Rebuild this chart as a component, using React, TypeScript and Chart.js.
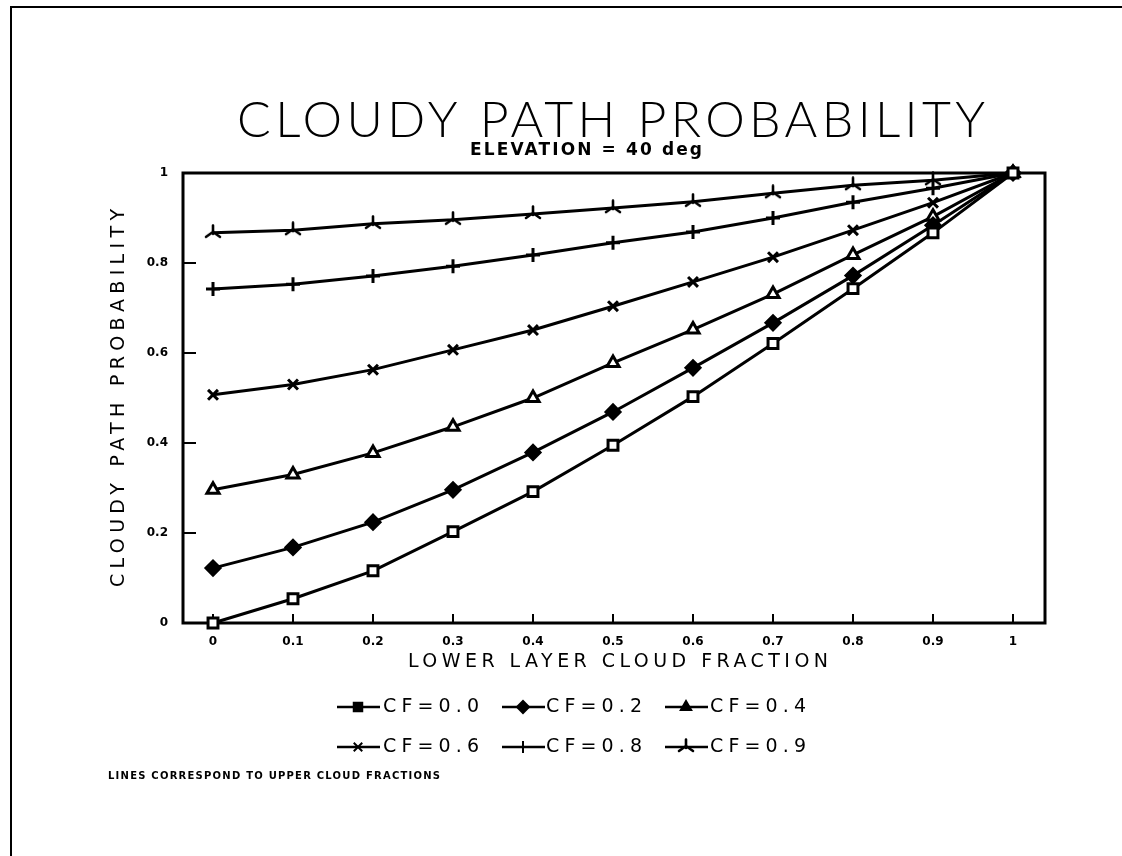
import React, { useEffect, useRef } from "react";
import { Chart, registerables } from "chart.js";
import { drawPoint } from "chart.js/helpers";

Chart.register(...registerables);

// ---------------- data ----------------
const xValues = [0, 0.1, 0.2, 0.3, 0.4, 0.5, 0.6, 0.7, 0.8, 0.9, 1.0];
const cf00 = [0.0, 0.054, 0.116, 0.203, 0.292, 0.395, 0.503, 0.621, 0.743, 0.867, 1.0];
const cf02 = [0.122, 0.168, 0.224, 0.296, 0.379, 0.469, 0.567, 0.667, 0.772, 0.884, 1.0];
const cf04 = [0.296, 0.33, 0.378, 0.436, 0.5, 0.578, 0.652, 0.731, 0.818, 0.903, 1.0];
const cf06 = [0.507, 0.53, 0.563, 0.607, 0.651, 0.704, 0.758, 0.813, 0.873, 0.934, 1.0];
const cf08 = [0.742, 0.753, 0.771, 0.793, 0.818, 0.845, 0.869, 0.9, 0.935, 0.966, 1.0];
const cf09 = [0.867, 0.873, 0.887, 0.896, 0.909, 0.922, 0.936, 0.955, 0.973, 0.984, 1.0];
const seriesLabels = ["CF=0.0", "CF=0.2", "CF=0.4", "CF=0.6", "CF=0.8", "CF=0.9"];
const xTickValues = [0, 0.1, 0.2, 0.3, 0.4, 0.5, 0.6, 0.7, 0.8, 0.9, 1];
const yTickValues = [0, 0.2, 0.4, 0.6, 0.8, 1];

const titleText = "CLOUDY PATH PROBABILITY";
const subtitleText = "ELEVATION = 40 deg";
const xTitleText = "LOWER LAYER CLOUD FRACTION";
const yTitleText = "CLOUDY PATH PROBABILITY";
const footnoteText = "LINES CORRESPOND TO UPPER CLOUD FRACTIONS";

const INK = "#000000";

function makeCustomMarker(): HTMLCanvasElement {
  const c = document.createElement("canvas");
  c.width = 18;
  c.height = 18;
  const g = c.getContext("2d")!;
  g.strokeStyle = INK;
  g.lineWidth = 2.6;
  g.lineCap = "round";
  g.beginPath();
  g.moveTo(9, 1.5);
  g.lineTo(9, 10);
  g.moveTo(2, 13);
  g.lineTo(9, 8);
  g.lineTo(16, 13);
  g.stroke();
  return c;
}

function spacedText(
  ctx: CanvasRenderingContext2D,
  text: string,
  x: number,
  y: number,
  font: string,
  width: number,
  align: "center" | "left" = "center"
) {
  ctx.save();
  ctx.font = font;
  (ctx as any).letterSpacing = "0px";
  const w = ctx.measureText(text).width;
  const n = text.length;
  const sp = n > 1 ? Math.max(0, (width - w) / (n - 1)) : 0;
  (ctx as any).letterSpacing = sp + "px";
  ctx.textBaseline = "middle";
  ctx.textAlign = "left";
  ctx.fillStyle = INK;
  const total = w + sp * (n - 1);
  const x0 = align === "center" ? x - total / 2 : x;
  ctx.fillText(text, x0, y);
  ctx.restore();
}

export default function App() {
  const canvasRef = useRef<HTMLCanvasElement | null>(null);

  useEffect(() => {
    document.body.style.margin = "0";
    const canvas = canvasRef.current;
    if (!canvas) return;

    const customMarker = makeCustomMarker();
    const pointStyles: any[] = ["rect", "rectRot", "triangle", "crossRot", "cross", customMarker];
    const radii = [7, 7, 7, 7, 7, 8];
    const seriesValues = [cf00, cf02, cf04, cf06, cf08, cf09];

    const datasets = seriesValues.map((vals, i) => ({
      label: seriesLabels[i],
      data: xValues.map((x, j) => ({ x, y: vals[j] })),
      borderColor: INK,
      backgroundColor: "#ffffff",
      borderWidth: 3,
      pointStyle: pointStyles[i],
      pointRadius: radii[i],
      pointBorderWidth: 3,
      pointBorderColor: INK,
      pointBackgroundColor: i === 1 ? INK : "#ffffff",
      tension: 0,
      clip: false as any,
    }));

    const decorations = {
      id: "decorations",
      beforeDatasetsDraw(chart: any) {
        const { ctx, chartArea: a, scales } = chart;
        const xs = scales.x;
        const ys = scales.y;
        ctx.save();
        ctx.strokeStyle = INK;
        ctx.lineWidth = 3;
        ctx.strokeRect(a.left, a.top, a.right - a.left, a.bottom - a.top);
        ctx.lineWidth = 2;
        ctx.beginPath();
        xTickValues.forEach((v) => {
          const px = xs.getPixelForValue(v);
          ctx.moveTo(px, a.bottom);
          ctx.lineTo(px, a.bottom - 9);
        });
        yTickValues.forEach((v) => {
          const py = ys.getPixelForValue(v);
          ctx.moveTo(a.left, py);
          ctx.lineTo(a.left + 13, py);
        });
        ctx.stroke();
        ctx.restore();
      },
      afterDraw(chart: any) {
        const { ctx, chartArea: a } = chart;
        const cx = (a.left + a.right) / 2;
        // page frame
        ctx.save();
        ctx.strokeStyle = INK;
        ctx.lineWidth = 2;
        ctx.beginPath();
        ctx.moveTo(11, 856);
        ctx.lineTo(11, 7);
        ctx.lineTo(1122, 7);
        ctx.stroke();
        ctx.restore();

        spacedText(ctx, titleText, cx - 3, 121, '300 50px Lato, "DejaVu Sans", sans-serif', 748);
        spacedText(ctx, subtitleText, 586, 151, 'bold 17px "DejaVu Sans", sans-serif', 232);
        spacedText(ctx, xTitleText, cx + 4, 662, '19px "DejaVu Sans", sans-serif', 420);
        ctx.save();
        ctx.translate(119, (a.top + a.bottom) / 2);
        ctx.rotate(-Math.PI / 2);
        spacedText(ctx, yTitleText, 0, 0, '19px "DejaVu Sans", sans-serif', 378);
        ctx.restore();

        // legend
        const rowY = [707, 747];
        const lineX = [337, 502, 665];
        const textX = [383, 546, 710];
        chart.data.datasets.forEach((ds: any, i: number) => {
          const r = Math.floor(i / 3);
          const c = i % 3;
          const y = rowY[r];
          ctx.save();
          ctx.strokeStyle = INK;
          ctx.lineWidth = 2.5;
          ctx.beginPath();
          ctx.moveTo(lineX[c], y);
          ctx.lineTo(lineX[c] + 43, y);
          ctx.stroke();
          ctx.fillStyle = INK;
          ctx.strokeStyle = INK;
          ctx.lineWidth = 2;
          drawPoint(ctx, { pointStyle: ds.pointStyle, radius: 6, rotation: 0, borderWidth: 2 } as any, lineX[c] + 21, y);
          ctx.restore();
          spacedText(ctx, ds.label, textX[c], y, '19px "DejaVu Sans", sans-serif', 96, "left");
        });

        spacedText(ctx, footnoteText, 108, 776, 'bold 10px "DejaVu Sans", sans-serif', 332, "left");
      },
    };

    const chart = new Chart(canvas, {
      type: "line",
      data: { datasets: datasets as any },
      options: {
        responsive: false,
        animation: false,
        devicePixelRatio: 1,
        layout: {
          autoPadding: false,
          padding: { left: 100, right: 77, top: 173, bottom: 183 },
        },
        plugins: {
          legend: { display: false },
          title: { display: false },
          tooltip: { enabled: false },
        },
        scales: {
          x: {
            type: "linear",
            min: -0.0375,
            max: 1.04,
            grid: { display: false, drawTicks: false },
            border: { display: false },
            afterFit: (s: any) => {
              s.height = 50;
            },
            afterBuildTicks: (s: any) => {
              s.ticks = xTickValues.map((v) => ({ value: v }));
            },
            ticks: {
              color: INK,
              padding: 12,
              maxRotation: 0,
              autoSkip: false,
              font: { family: '"DejaVu Sans", sans-serif', size: 12, weight: "bold" },
              callback: (v: any) => String(Math.round(Number(v) * 10) / 10),
            },
          },
          y: {
            type: "linear",
            min: 0,
            max: 1,
            grid: { display: false, drawTicks: false },
            border: { display: false },
            afterFit: (s: any) => {
              s.width = 83;
            },
            afterBuildTicks: (s: any) => {
              s.ticks = yTickValues.map((v) => ({ value: v }));
            },
            ticks: {
              color: INK,
              padding: 15,
              font: { family: '"DejaVu Sans", sans-serif', size: 12, weight: "bold" },
              callback: (v: any) => String(Math.round(Number(v) * 10) / 10),
            },
          },
        },
      },
      plugins: [decorations],
    });

    return () => {
      chart.destroy();
    };
  }, []);

  return (
    <div style={{ width: 1122, height: 856 }}>
      <canvas ref={canvasRef} width={1122} height={856} style={{ display: "block" }} />
    </div>
  );
}
